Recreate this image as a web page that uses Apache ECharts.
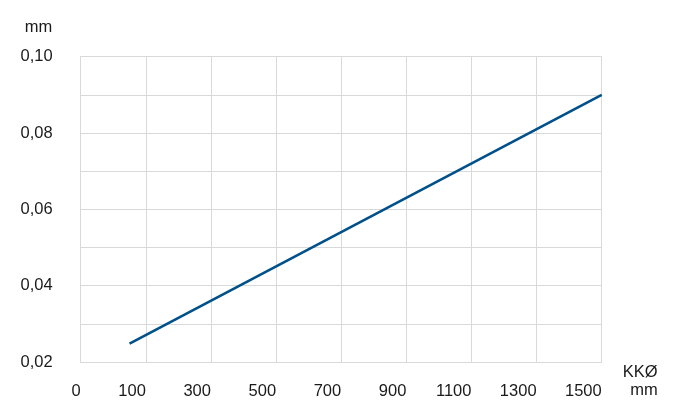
<!DOCTYPE html>
<html>
<head>
<meta charset="utf-8">
<script src="https://cdn.jsdelivr.net/npm/echarts@6/dist/echarts.min.js"></script>
<style>
html,body{margin:0;padding:0;background:#fff;}
#chart{width:700px;height:411px;}
</style>
</head>
<body>
<div id="chart"></div>
<script>
// Tick labels of the x axis (KKØ, mm), one per vertical grid line
var xTickLabels = [0, 100, 300, 500, 700, 900, 1100, 1300, 1500];
// Y axis ticks (mm)
var yTicks = [0.02, 0.03, 0.04, 0.05, 0.06, 0.07, 0.08, 0.09, 0.10];
var yLabelTicks = ['0,02', '0,04', '0,06', '0,08', '0,10'];
// Series: KKØ (mm) vs value (mm)
var kkValues = [75, 1500];
var mmValues = [0.0248, 0.0900];

// map a KKØ value onto the (non-uniform) labelled grid
function kkToPos(v) {
  for (var i = 0; i < xTickLabels.length - 1; i++) {
    var a = xTickLabels[i], b = xTickLabels[i + 1];
    if (v <= b) return i + (v - a) / (b - a);
  }
  return xTickLabels.length - 1;
}

var seriesData = kkValues.map(function (v, i) { return [kkToPos(v), mmValues[i]]; });

var font = '"Liberation Sans", Arial, Helvetica, sans-serif';
var txt = '#1a1a1a';
var gridColor = '#d9d9d9';
var fs = 16.5;

var chart = echarts.init(document.getElementById('chart'), null, {renderer: 'canvas'});
chart.setOption({
  animation: false,
  grid: {left: 80.7, right: 98.3, top: 56.7, bottom: 49, containLabel: false},
  xAxis: {
    type: 'value',
    min: 0,
    max: xTickLabels.length - 1,
    interval: 1,
    name: 'KKØ\nmm',
    nameLocation: 'end',
    nameGap: 56,
    nameTextStyle: {color: txt, fontFamily: font, fontSize: fs, align: 'right', verticalAlign: 'top', lineHeight: 17.5, padding: [2, 0, 0, 0]},
    axisLine: {show: true, lineStyle: {color: gridColor, width: 1}},
    axisTick: {show: false},
    axisLabel: {
      color: txt, fontFamily: font, fontSize: fs, margin: 21, align: 'right',
      formatter: function (v) { var i = Math.round(v); return String(xTickLabels[i]); }
    },
    splitLine: {show: true, lineStyle: {color: gridColor, width: 1}}
  },
  yAxis: {
    type: 'value',
    min: yTicks[0],
    max: yTicks[yTicks.length - 1],
    interval: 0.01,
    name: 'mm',
    nameLocation: 'end',
    nameGap: 21,
    nameTextStyle: {color: txt, fontFamily: font, fontSize: fs, align: 'right', padding: [0, 28.5, 0, 0]},
    axisLine: {show: true, lineStyle: {color: gridColor, width: 1}},
    axisTick: {show: false},
    axisLabel: {
      color: txt, fontFamily: font, fontSize: fs, margin: 28,
      padding: [0, 0, 10, 0],
      formatter: function (v) {
        var k = Math.round(v * 100);
        if (k % 2 !== 0) return '';
        return yLabelTicks[(k - 2) / 2];
      }
    },
    splitLine: {show: true, lineStyle: {color: gridColor, width: 1}}
  },
  series: [{
    type: 'line',
    data: seriesData,
    showSymbol: false,
    symbol: 'none',
    lineStyle: {color: '#00508a', width: 2.6},
    itemStyle: {color: '#00508a'}
  }]
});
</script>
</body>
</html>
